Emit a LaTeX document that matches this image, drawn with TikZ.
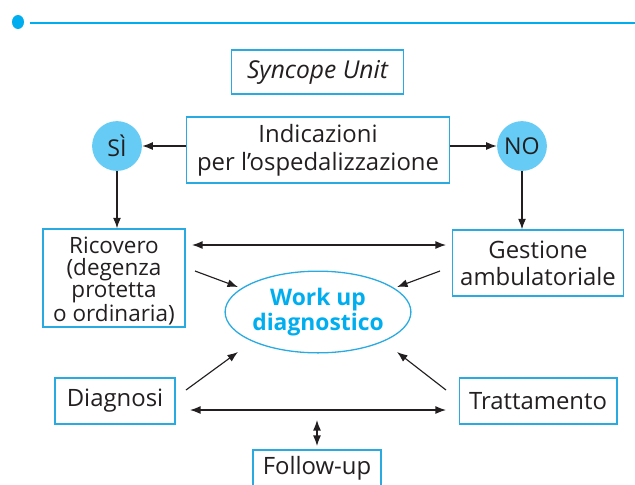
\documentclass[tikz,border=0pt]{standalone}
\usepackage{fontspec}
\setmainfont{Open Sans}
\usetikzlibrary{arrows.meta,shapes.geometric}
\definecolor{cyanline}{RGB}{41,171,226}
\definecolor{cyanfill}{RGB}{102,204,245}
\definecolor{cyantext}{RGB}{0,174,239}
\definecolor{darkarrow}{RGB}{35,31,32}
\tikzset{
  box/.style={draw=cyanline, line width=0.9pt, inner sep=0pt, align=center, text=darkarrow,
    font=\fontsize{13.6}{15.8}\selectfont},
  ball/.style={circle, fill=cyanfill, minimum size=28.35pt, inner sep=0pt, text=darkarrow,
    font=\fontsize{13.2}{15}\selectfont},
  arr/.style={draw=darkarrow, line width=0.65pt, -{Latex[length=6pt,width=4.5pt]}},
  darr/.style={draw=darkarrow, line width=0.65pt, {Latex[length=6pt,width=4.5pt]}-{Latex[length=6pt,width=4.5pt]}},
}
\begin{document}
\begin{tikzpicture}[x=0.02cm, y=-0.02cm]
\clip (0,0) rectangle (635,484);
\useasboundingbox (0,0) rectangle (635,484);
% header
\fill[cyantext] (18,22) ellipse (6 and 7);
\draw[cyantext, line width=1.13pt] (30,23) -- (635,23);
% nodes
\node[box, minimum width=98.1pt, minimum height=24.9pt, font=\fontsize{14}{16}\selectfont\itshape] (su) at (317.5,72) {Syncope Unit};
\node[box, minimum width=149.7pt, minimum height=37.4pt] (ind) at (318,150) {Indicazioni\\per l’ospedalizzazione};
\node[ball] (si) at (117,146) {SÌ};
\node[ball] (no) at (522,146) {NO};
\node[box, minimum width=80.5pt, minimum height=55.6pt] (ric) at (114,278) {};
\node[align=center, inner sep=0pt, text=darkarrow, font=\fontsize{12.8}{12.6}\selectfont] (rictext) at (114,281) {Ricovero\\(degenza\\protetta\\o ordinaria)};
\node[box, minimum width=97.5pt, minimum height=37.4pt, font=\fontsize{13.6}{15.3}\selectfont] (ges) at (538,263) {Gestione\\ambulatoriale};
\node[ellipse, draw=cyanline, line width=0.74pt, minimum width=104.3pt, minimum height=46.5pt, inner sep=0pt,
  align=center, text=cyantext, font=\fontsize{13}{14.7}\selectfont\bfseries] (wu) at (318,312) {Work up\\diagnostico};
\node[box, minimum width=68pt, minimum height=26.1pt] (dia) at (115,401) {Diagnosi};
\node[box, minimum width=89.6pt, minimum height=26.1pt] (tra) at (538,401) {Trattamento};
\node[box, minimum width=72.6pt, minimum height=20.4pt] (fol) at (317,468) {Follow-up};
% coordinates for free arrow ends
\coordinate (rgL) at (192,245);
\coordinate (rgR) at (446,245);
\coordinate (rw1) at (195,271);
\coordinate (rw2) at (238,287);
\coordinate (gw1) at (440,271);
\coordinate (gw2) at (397,287);
\coordinate (dw1) at (186,390);
\coordinate (dw2) at (238,352);
\coordinate (tw1) at (446,390);
\coordinate (tw2) at (397,352);
\coordinate (dtL) at (190,410);
\coordinate (dtR) at (446,410);
\coordinate (fu1) at (317,420);
\coordinate (fu2) at (317,446);
% connectors
\draw[arr] (si.east -| ind.west) -- (si.east);
\draw[arr] (no.west -| ind.east) -- (no.west);
\draw[arr] (si.south) -- (si.south |- ric.north);
\draw[arr] (no.south) -- (no.south |- ges.north);
\draw[darr] (rgL) -- (rgR);
\draw[arr] (rw1) -- (rw2);
\draw[arr] (gw1) -- (gw2);
\draw[arr] (dw1) -- (dw2);
\draw[arr] (tw1) -- (tw2);
\draw[darr] (dtL) -- (dtR);
\draw[darr] (fu1) -- (fu2);
\end{tikzpicture}
\end{document}
